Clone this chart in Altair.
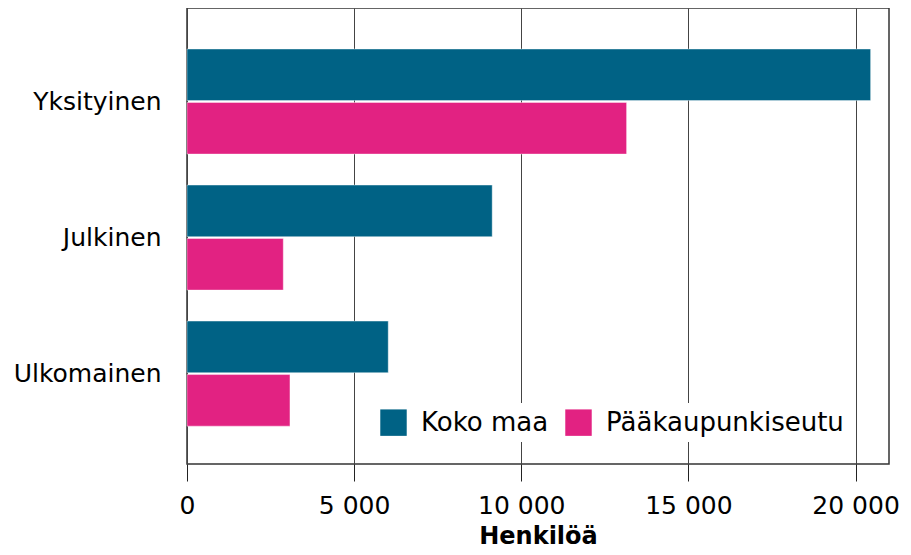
import altair as alt
import pandas as pd

categories = ["Yksityinen", "Julkinen", "Ulkomainen"]
series = ["Koko maa", "Pääkaupunkiseutu"]
koko_maa = [20450, 9130, 6020]
paakaupunkiseutu = [13150, 2880, 3080]
colors = ["#006285", "#E22282"]

rows = []
for c, a, b in zip(categories, koko_maa, paakaupunkiseutu):
    rows.append({"sektori": c, "alue": series[0], "arvo": a})
    rows.append({"sektori": c, "alue": series[1], "arvo": b})
df = pd.DataFrame(rows)

FONT = "DejaVu Sans"

chart = alt.Chart(df).mark_bar(stroke="white", strokeWidth=1, strokeOpacity=0.4).encode(
    y=alt.Y("sektori:N", sort=categories,
            scale=alt.Scale(paddingInner=0.228, paddingOuter=0.29, align=0.52),
            axis=alt.Axis(title=None, ticks=False, domain=False, labelPadding=26,
                          labelFontSize=25, labelFont=FONT, labelColor="black",
                          labelLimit=300)),
    yOffset=alt.YOffset("alue:N", sort=series, scale=alt.Scale(paddingInner=0.035)),
    x=alt.X("arvo:Q", scale=alt.Scale(domain=[0, 21000], nice=False),
            axis=alt.Axis(title="Henkilöä", values=[0, 5000, 10000, 15000, 20000],
                          labelExpr="replace(format(datum.value, ','), ',', ' ')",
                          labelFlush=False,
                          tickSize=17, tickColor="#222222", tickWidth=1,
                          domain=False, grid=True, gridColor="#444444", gridWidth=1,
                          labelPadding=12, labelFontSize=25, labelFont=FONT,
                          labelColor="black", titleFontSize=24, titleFont=FONT,
                          titleFontWeight="bold", titleColor="black", titlePadding=6)),
    color=alt.Color("alue:N", sort=series,
                    scale=alt.Scale(domain=series, range=colors),
                    legend=alt.Legend(title=None, orient="none", legendX=187, legendY=395,
                                      direction="horizontal", symbolType="square",
                                      symbolSize=700, symbolStrokeWidth=0,
                                      labelFontSize=26, labelFont=FONT, labelColor="black",
                                      labelLimit=400, columnPadding=16, labelOffset=14,
                                      fillColor="white", padding=6)),
).properties(
    width=702, height=456,
    autosize=alt.AutoSizeParams(type="none"),
    padding={"left": 179, "top": 0, "right": 14, "bottom": 89},
).configure_view(stroke="#333333", strokeWidth=1.5)

chart.save("out.html", embed_options={"renderer": "svg", "actions": False})
